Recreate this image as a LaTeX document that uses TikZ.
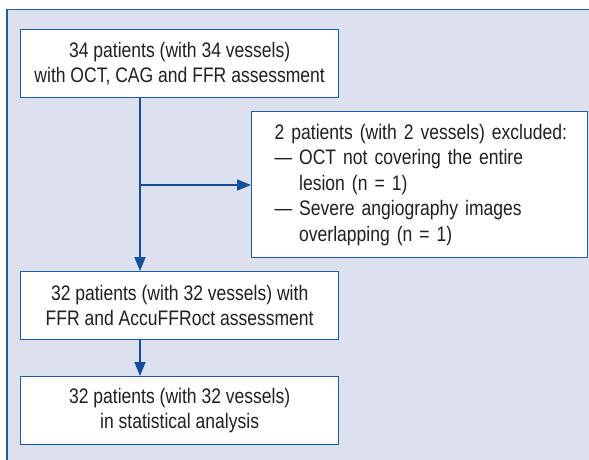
\documentclass[tikz,border=0pt]{standalone}
\usepackage{fontspec}
\setmainfont{Liberation Sans}[FakeStretch=0.835]
\usetikzlibrary{arrows.meta}
\definecolor{bgfill}{HTML}{DCE0EF}
\definecolor{frameblue}{HTML}{1F5AA6}
\definecolor{arrowblue}{HTML}{134E9A}
\definecolor{txtgray}{HTML}{231F20}
\begin{document}
\begin{tikzpicture}[x=1pt,y=-1pt,
  box/.style={draw=frameblue,line width=1.3pt,fill=white,anchor=north west,
    inner sep=0pt,text=txtgray,font=\fontsize{21}{25.5}\selectfont},
  flow/.style={draw=arrowblue,line width=1.5pt,-{Triangle[length=14pt,width=11pt]}}]
\useasboundingbox (0,0) rectangle (589,459);
\fill[bgfill] (7,9.5) rectangle (600,470);
\draw[frameblue,line width=1.3pt] (600,9.5) -- (7,9.5) -- (7,470);
\node[box,minimum width=318pt,minimum height=68pt,align=center] (b1) at (20,29)
  {34 patients (with 34 vessels)\\with OCT, CAG and FFR assessment};
\node[box,minimum width=336pt,minimum height=146pt,align=left,text width=290pt,inner xsep=23pt] (b2) at (251,111)
  {\mbox{2 patients (with 2 vessels) excluded:}\\
   \mbox{—\ OCT not covering the entire}\\
   \mbox{\hphantom{—\ }lesion (n = 1)}\\
   \mbox{—\ Severe angiography images}\\
   \mbox{\hphantom{—\ }overlapping (n = 1)}};
\node[box,minimum width=318pt,minimum height=68pt,align=center] (b3) at (20,271)
  {32 patients (with 32 vessels) with\\FFR and AccuFFRoct assessment};
\node[box,minimum width=318pt,minimum height=68pt,align=center] (b4) at (20,376)
  {32 patients (with 32 vessels)\\in statistical analysis};
\coordinate (top) at (140,97);
\coordinate (br) at (140,185);
\coordinate (m3) at (140,339);
\draw[flow] (top) -- (top |- b3.north);
\draw[flow] (br) -- (br -| b2.west);
\draw[flow] (m3) -- (m3 |- b4.north);
\end{tikzpicture}
\end{document}
